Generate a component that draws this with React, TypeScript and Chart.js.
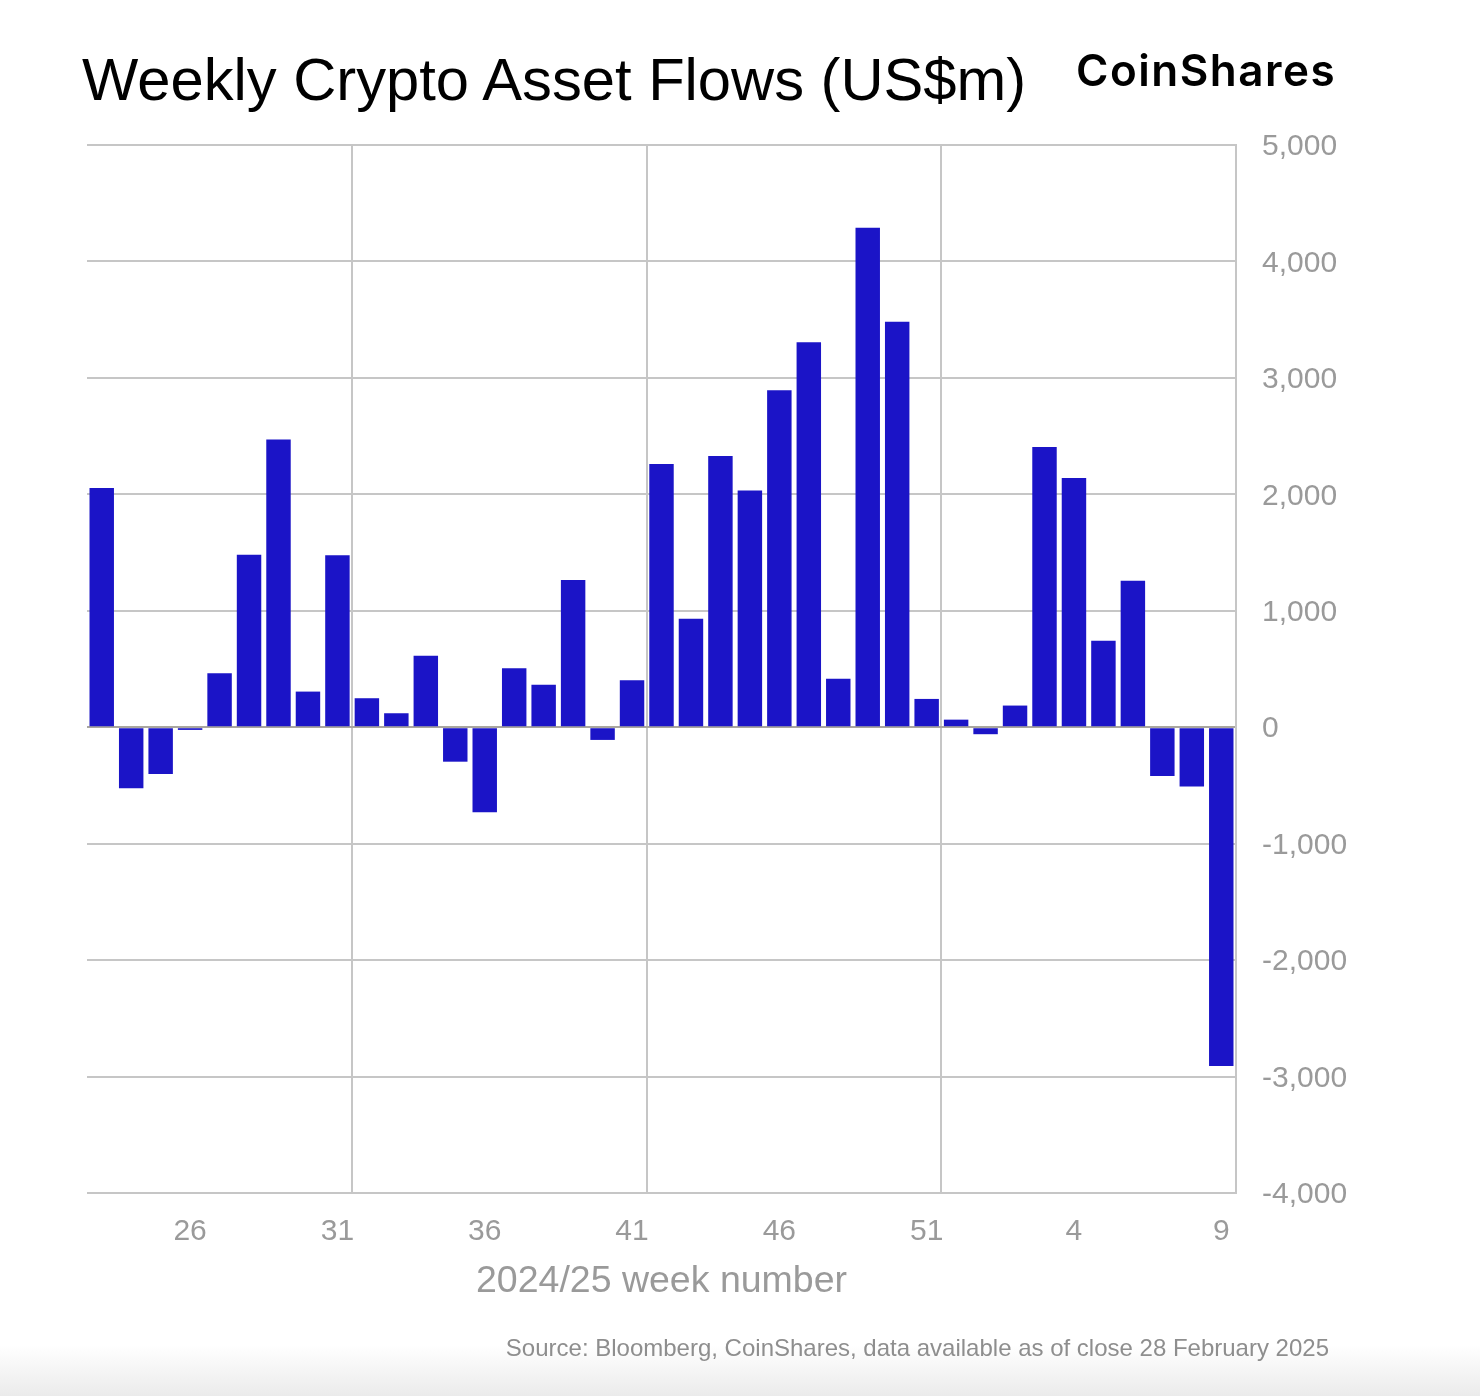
import React, { useEffect, useRef } from 'react';
import { Chart, registerables } from 'chart.js';

Chart.register(...registerables);

// ---- data ----
const weeks: string[] = [
  '23', '24', '25', '26', '27', '28', '29', '30', '31', '32',
  '33', '34', '35', '36', '37', '38', '39', '40', '41', '42',
  '43', '44', '45', '46', '47', '48', '49', '50', '51', '52',
  '1', '2', '3', '4', '5', '6', '7', '8', '9',
];

const flows: number[] = [
  2055, -524, -402, -23, 463, 1481, 2470, 306, 1476, 249,
  120, 613, -296, -731, 507, 364, 1264, -109, 404, 2261,
  932, 2330, 2033, 2894, 3307, 416, 4289, 3482, 243, 65,
  -60, 186, 2407, 2141, 742, 1258, -419, -510, -2909,
];

const labeledWeeks: string[] = ['26', '31', '36', '41', '46', '51', '4', '9'];
const dividerAfterWeeks: string[] = ['31', '41', '51'];

const yMin = -4000;
const yMax = 5000;
const yStep = 1000;

const titleText = 'Weekly Crypto Asset Flows (US$m)';
const brandText = 'CoinShares';
const xTitleText = '2024/25 week number';
const sourceText = 'Source: Bloomberg, CoinShares, data available as of close 28 February 2025';

// ---- styling ----
const BAR = '#1b14c7';
const GRID = '#c6c6c6';
const ZERO = '#a9a69f';
const TICK = '#9a9a9a';
const FONT = '"Liberation Sans", Arial, Helvetica, sans-serif';

const W = 1480;
const H = 1396;
const Y_AXIS_W = 140;
const X_AXIS_H = 80;

export default function App() {
  const ref = useRef<HTMLCanvasElement | null>(null);

  useEffect(() => {
    if (!ref.current) return;
    const dividerIdx = dividerAfterWeeks.map((w) => weeks.indexOf(w) + 1);

    const chart = new Chart(ref.current, {
      type: 'bar',
      data: {
        labels: weeks,
        datasets: [
          {
            data: flows,
            backgroundColor: BAR,
            borderWidth: 0,
            barPercentage: 0.83,
            categoryPercentage: 1.0,
          },
        ],
      },
      options: {
        animation: false,
        responsive: false,
        maintainAspectRatio: false,
        layout: {
          padding: {
            left: 87,
            top: 145,
            right: W - 1236 - Y_AXIS_W,
            bottom: H - 1193 - X_AXIS_H,
          },
        },
        plugins: {
          legend: { display: false },
          tooltip: { enabled: false },
          title: { display: false },
        },
        scales: {
          x: {
            type: 'category',
            offset: true,
            afterFit: (scale: any) => {
              scale.height = X_AXIS_H;
            },
            grid: {
              offset: true,
              drawTicks: false,
              lineWidth: 2,
              color: (ctx: any) =>
                typeof ctx.index === 'number' && dividerIdx.includes(ctx.index)
                  ? GRID
                  : 'rgba(0,0,0,0)',
            },
            border: { display: false },
            ticks: {
              autoSkip: false,
              maxRotation: 0,
              minRotation: 0,
              padding: 21,
              color: TICK,
              font: { family: FONT, size: 30 },
              callback: (_v: any, i: number) =>
                labeledWeeks.includes(weeks[i]) ? weeks[i] : '',
            },
          },
          y: {
            position: 'right',
            min: yMin,
            max: yMax,
            afterFit: (scale: any) => {
              scale.width = Y_AXIS_W;
            },
            grid: {
              drawTicks: false,
              lineWidth: 2,
              color: (ctx: any) => (ctx.tick && ctx.tick.value === 0 ? ZERO : GRID),
            },
            border: { display: true, color: GRID, width: 2 },
            ticks: {
              stepSize: yStep,
              padding: 26,
              labelOffset: 2,
              color: TICK,
              font: { family: FONT, size: 30 },
              callback: (v: any) => Number(v).toLocaleString('en-US'),
            },
          },
        },
      },
    });
    return () => chart.destroy();
  }, []);

  return (
    <div
      style={{
        position: 'absolute',
        left: 0,
        top: 0,
        width: W,
        height: H,
        overflow: 'hidden',
        background: 'linear-gradient(to bottom, #ffffff 0px, #ffffff 1345px, #ebebeb 1396px)',
        fontFamily: FONT,
      }}
    >
      <canvas
        ref={ref}
        width={W}
        height={H}
        style={{ position: 'absolute', left: 0, top: 0, width: W, height: H }}
      />
      <div
        style={{
          position: 'absolute',
          left: 82,
          top: 50,
          fontSize: 59.7,
          lineHeight: '60px',
          color: '#000',
          whiteSpace: 'nowrap',
        }}
      >
        {titleText}
      </div>
      <div
        style={{
          position: 'absolute',
          left: 1076,
          top: 48,
          fontFamily: 'Inter, "Noto Sans", sans-serif',
          fontWeight: 600,
          fontSize: 44,
          lineHeight: '44px',
          letterSpacing: '1.5px',
          color: '#000',
          whiteSpace: 'nowrap',
        }}
      >
        {brandText}
      </div>
      <div
        style={{
          position: 'absolute',
          left: 87,
          width: 1236 - 87,
          top: 1261,
          textAlign: 'center',
          fontSize: 37.5,
          lineHeight: '37px',
          color: TICK,
          whiteSpace: 'nowrap',
        }}
      >
        {xTitleText}
      </div>
      <div
        style={{
          position: 'absolute',
          right: W - 1329,
          top: 1336,
          fontSize: 24,
          lineHeight: '24px',
          color: '#8e8e8e',
          whiteSpace: 'nowrap',
        }}
      >
        {sourceText}
      </div>
    </div>
  );
}
